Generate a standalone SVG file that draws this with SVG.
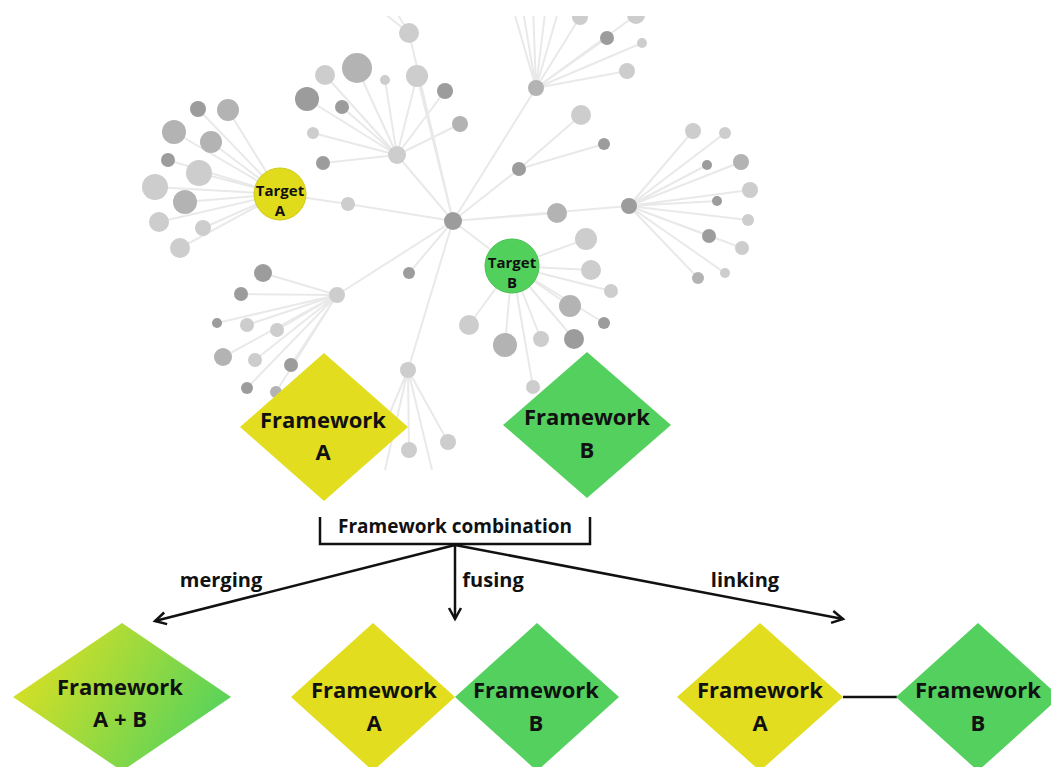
<svg xmlns="http://www.w3.org/2000/svg" width="1051" height="767" viewBox="0 0 1051 767">
<defs>
<style>
.e{stroke:#e9e9e9;stroke-width:2;fill:none}
.d{fill:#9c9c9c}.m{fill:#b3b3b3}.l{fill:#cdcdcd}
.t{font-family:"Open Sans","Noto Sans",sans-serif;font-weight:bold;fill:#111;text-anchor:middle}
.fw{font-size:22px}
.lb{font-size:20px}
.tg{font-size:15px}
.conn{stroke:#111;stroke-width:2.5;fill:none}
.yel{fill:#e2de1f}.grn{fill:#53d05d}
</style>
<clipPath id="netclip"><rect x="0" y="16" width="1051" height="751"/></clipPath>
<linearGradient id="mix" x1="0" y1="0.3" x2="1" y2="0.7">
<stop offset="0" stop-color="#dde022"/>
<stop offset="1" stop-color="#4fd25e"/>
</linearGradient>
<marker id="ah" markerUnits="userSpaceOnUse" markerWidth="16" markerHeight="16" viewBox="-13 -8 16 16" refX="0" refY="0" orient="auto">
<path d="M-11,-6 L0,0 L-11,6" stroke="#111" stroke-width="2.5" fill="none"/>
</marker>
</defs>
<rect width="1051" height="767" fill="#fff"/>

<g id="network" clip-path="url(#netclip)">
<g id="net-edges" class="e">
<path d="M453,221L397,155M453,221L417,76M453,221L409,33M453,221L348,204M348,204L280,194M453,221L337,295M453,221L409,273M453,221L408,370M453,221L536,88M453,221L519,169M453,221L557,213M453,221L629,206M453,221L512,266"/>
<path d="M397,155L357,68M397,155L325,75M397,155L385,80M397,155L307,99M397,155L342,107M397,155L313,133M397,155L323,163M397,155L445,91M397,155L460,124M397,155L417,76M409,33L395,10M409,33L380,10"/>
<path d="M280,194L198,109M280,194L228,110M280,194L174,132M280,194L211,142M280,194L168,160M280,194L199,173M280,194L155,187M280,194L185,202M280,194L159,222M280,194L203,228M280,194L180,248"/>
<path d="M337,295L263,273M337,295L241,294M337,295L217,323M337,295L247,325M337,295L277,330M337,295L223,357M337,295L255,360M337,295L291,365M337,295L247,388M337,295L276,392"/>
<path d="M408,370L409,450M408,370L448,442M408,370L385,470M408,370L432,470M408,370L372,455"/>
<path d="M536,88L580,17M536,88L636,15M536,88L607,38M536,88L642,43M536,88L627,71M536,88L512,5M536,88L522,5M536,88L533,5M536,88L546,5M536,88L560,5"/>
<path d="M519,169L581,115M519,169L604,144"/>
<path d="M629,206L693,131M629,206L725,133M629,206L707,165M629,206L741,162M629,206L750,190M629,206L717,201M629,206L748,220M629,206L709,236M629,206L742,248M629,206L698,278M629,206L725,273"/>
<path d="M512,266L586,239M512,266L591,270M512,266L611,291M512,266L570,306M512,266L604,323M512,266L574,339M512,266L541,339M512,266L505,345M512,266L469,325M512,266L533,387"/>
</g>
<g id="net-nodes">
<circle class="d" cx="453" cy="221" r="9"/>
<circle class="l" cx="397" cy="155" r="9"/>
<circle class="l" cx="409" cy="33" r="10"/>
<circle class="l" cx="417" cy="76" r="11"/>
<circle class="m" cx="357" cy="68" r="15"/>
<circle class="l" cx="325" cy="75" r="10"/>
<circle class="l" cx="385" cy="80" r="5"/>
<circle class="d" cx="307" cy="99" r="12"/>
<circle class="d" cx="342" cy="107" r="7"/>
<circle class="l" cx="313" cy="133" r="6"/>
<circle class="d" cx="323" cy="163" r="7"/>
<circle class="d" cx="445" cy="91" r="8"/>
<circle class="m" cx="460" cy="124" r="8"/>
<circle class="l" cx="348" cy="204" r="7"/>
<circle class="d" cx="198" cy="109" r="8"/>
<circle class="m" cx="228" cy="110" r="11"/>
<circle class="m" cx="174" cy="132" r="12"/>
<circle class="m" cx="211" cy="142" r="11"/>
<circle class="d" cx="168" cy="160" r="7"/>
<circle class="l" cx="199" cy="173" r="13"/>
<circle class="l" cx="155" cy="187" r="13"/>
<circle class="m" cx="185" cy="202" r="12"/>
<circle class="l" cx="159" cy="222" r="10"/>
<circle class="l" cx="203" cy="228" r="8"/>
<circle class="l" cx="180" cy="248" r="10"/>
<circle class="l" cx="337" cy="295" r="8"/>
<circle class="d" cx="263" cy="273" r="9"/>
<circle class="d" cx="241" cy="294" r="7"/>
<circle class="d" cx="217" cy="323" r="5"/>
<circle class="l" cx="247" cy="325" r="7"/>
<circle class="l" cx="277" cy="330" r="7"/>
<circle class="m" cx="223" cy="357" r="9"/>
<circle class="l" cx="255" cy="360" r="7"/>
<circle class="d" cx="291" cy="365" r="7"/>
<circle class="d" cx="247" cy="388" r="6"/>
<circle class="m" cx="276" cy="392" r="6"/>
<circle class="d" cx="409" cy="273" r="6"/>
<circle class="l" cx="408" cy="370" r="8"/>
<circle class="l" cx="409" cy="450" r="8"/>
<circle class="l" cx="448" cy="442" r="8"/>
<circle class="m" cx="536" cy="88" r="8"/>
<circle class="l" cx="580" cy="17" r="8"/>
<circle class="l" cx="636" cy="15" r="9"/>
<circle class="d" cx="607" cy="38" r="7"/>
<circle class="l" cx="642" cy="43" r="5"/>
<circle class="l" cx="627" cy="71" r="8"/>
<circle class="d" cx="519" cy="169" r="7"/>
<circle class="l" cx="581" cy="115" r="10"/>
<circle class="d" cx="604" cy="144" r="6"/>
<circle class="m" cx="557" cy="213" r="10"/>
<circle class="d" cx="629" cy="206" r="8"/>
<circle class="l" cx="693" cy="131" r="8"/>
<circle class="l" cx="725" cy="133" r="6"/>
<circle class="d" cx="707" cy="165" r="5"/>
<circle class="m" cx="741" cy="162" r="8"/>
<circle class="l" cx="750" cy="190" r="8"/>
<circle class="d" cx="717" cy="201" r="5"/>
<circle class="l" cx="748" cy="220" r="6"/>
<circle class="d" cx="709" cy="236" r="7"/>
<circle class="l" cx="742" cy="248" r="7"/>
<circle class="m" cx="698" cy="278" r="6"/>
<circle class="l" cx="725" cy="273" r="5"/>
<circle class="l" cx="586" cy="239" r="11"/>
<circle class="l" cx="591" cy="270" r="10"/>
<circle class="l" cx="611" cy="291" r="7"/>
<circle class="m" cx="570" cy="306" r="11"/>
<circle class="d" cx="604" cy="323" r="6"/>
<circle class="d" cx="574" cy="339" r="10"/>
<circle class="l" cx="541" cy="339" r="8"/>
<circle class="m" cx="505" cy="345" r="12"/>
<circle class="l" cx="469" cy="325" r="10"/>
<circle class="l" cx="533" cy="387" r="7"/>
</g>
</g>

<g id="target-a">
<circle cx="280" cy="194" r="26" fill="#e0dc1c" stroke="#cfcb18" stroke-width="1"/>
<text class="t tg" x="280" y="196">Target</text>
<text class="t tg" x="280" y="216">A</text>
</g>
<g id="target-b">
<circle cx="512" cy="266" r="27" fill="#52d05c" stroke="#46bf50" stroke-width="1"/>
<text class="t tg" x="512" y="268">Target</text>
<text class="t tg" x="512" y="288">B</text>
</g>

<g id="framework-a">
<polygon class="yel" points="324,353 408,427 324,501 240,427"/>
<text class="t fw" x="323" y="428">Framework</text>
<text class="t fw" x="323" y="460">A</text>
</g>
<g id="framework-b">
<polygon class="grn" points="587,352 671,425 587,498 503,425"/>
<text class="t fw" x="587" y="425">Framework</text>
<text class="t fw" x="587" y="458">B</text>
</g>

<g id="combination">
<text class="t" style="font-size:19px" x="455" y="533">Framework combination</text>
</g>

<g id="connectors">
<path class="conn" d="M320,517V544H590V517"/>
<line class="conn" x1="455" y1="545" x2="155" y2="621" marker-end="url(#ah)"/>
<line class="conn" x1="455" y1="545" x2="455" y2="619" marker-end="url(#ah)"/>
<line class="conn" x1="455" y1="545" x2="843" y2="619" marker-end="url(#ah)"/>
<line class="conn" x1="843" y1="697" x2="897" y2="697" stroke-width="3"/>
<text class="t lb" x="221" y="587">merging</text>
<text class="t lb" x="493" y="587">fusing</text>
<text class="t lb" x="745" y="587">linking</text>
</g>

<g id="merged">
<polygon fill="url(#mix)" points="122,623 231,697 122,771 13,697"/>
<text class="t fw" x="120" y="695">Framework</text>
<text class="t fw" x="120" y="727">A + B</text>
</g>
<g id="fused-a">
<polygon class="yel" points="373,623 455,697 373,771 291,697"/>
<text class="t fw" x="374" y="698">Framework</text>
<text class="t fw" x="374" y="731">A</text>
</g>
<g id="fused-b">
<polygon class="grn" points="537,623 619,697 537,771 455,697"/>
<text class="t fw" x="536" y="698">Framework</text>
<text class="t fw" x="536" y="731">B</text>
</g>
<g id="linked-a">
<polygon class="yel" points="760,623 843,697 760,771 677,697"/>
<text class="t fw" x="760" y="698">Framework</text>
<text class="t fw" x="760" y="731">A</text>
</g>
<g id="linked-b">
<polygon class="grn" points="978,623 1060,697 978,771 896,697"/>
<text class="t fw" x="978" y="698">Framework</text>
<text class="t fw" x="978" y="731">B</text>
</g>
</svg>
